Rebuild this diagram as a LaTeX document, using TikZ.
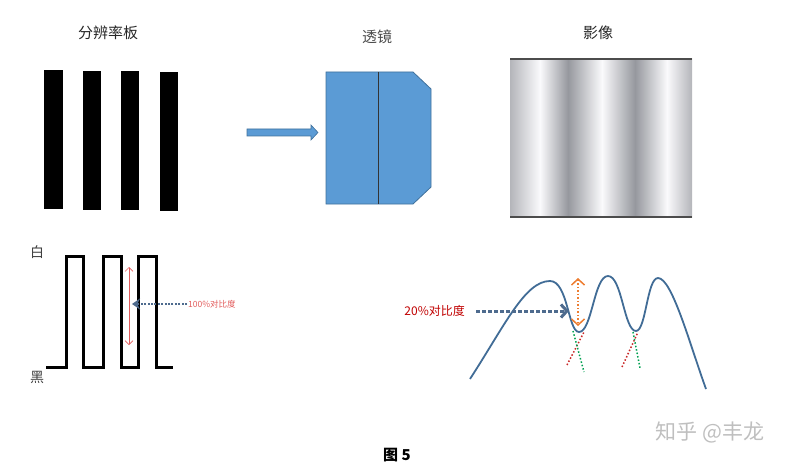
\documentclass[tikz,border=0pt]{standalone}
\usepackage{fontspec}
\setmainfont{Noto Sans CJK SC}
\usepackage{tikz}
\usetikzlibrary{arrows.meta}
\definecolor{LensBlue}{RGB}{91,155,213}
\definecolor{LensEdge}{RGB}{65,113,156}
\definecolor{CurveBlue}{RGB}{65,108,150}
\definecolor{PtrBlue}{RGB}{78,107,142}
\definecolor{MarkRed}{RGB}{192,0,0}
\definecolor{SoftRed}{RGB}{226,92,92}
\definecolor{MarkOrange}{RGB}{237,125,49}
\definecolor{MarkGreen}{RGB}{0,160,80}
\definecolor{BarGray}{RGB}{150,152,158}
\definecolor{BarLight}{RGB}{250,250,252}
\definecolor{BarMid}{RGB}{180,181,186}
\pgfdeclarehorizontalshading{imgstripes}{100bp}{%
  color(0bp)=(BarMid); color(25bp)=(BarMid); color(33.24bp)=(BarLight);
  color(40.93bp)=(BarGray); color(50.27bp)=(BarLight); color(59.34bp)=(BarGray);
  color(68.13bp)=(BarLight); color(75bp)=(BarMid); color(100bp)=(BarMid)}

\begin{document}
\begin{tikzpicture}[x=1pt, y=-1pt,
          title/.style={font=\fontsize{15}{15}\selectfont, text=black!85},
          bar/.style={fill=black},
          ptr/.style={-{Stealth[length=8pt, width=11pt]}, draw=PtrBlue,
                      line width=2.6pt, dash pattern=on 2pt off 1.4pt},
          cut/.style={line width=1.5pt, dotted}
        ]
        \useasboundingbox (0,0) rectangle (802,465);

        % titles
        \node[title] (tchart) at (108,33) {分辨率板};
        \node[title, text=black!70] (tlens) at (377,37) {透镜};
        \node[title] (timg) at (598,33) {影像};

        % resolution chart
        \fill[bar] (44,70) rectangle (63,209);
        \fill[bar] (83,71) rectangle (101,210);
        \fill[bar] (121,71) rectangle (139,210);
        \fill[bar] (160,72) rectangle (178,211);

        % block arrow
        \draw[fill=LensBlue, draw=LensEdge, line width=0.6pt]
              (247,129) -- (311,129) -- (311,125) -- (318,132.5) -- (311,140)
              -- (311,136) -- (247,136) -- cycle;

        % lens
        \draw[fill=LensBlue, draw=LensEdge, line width=0.8pt]
              (326,72) -- (413,72) -- (431,89) -- (431,187) -- (413,204)
              -- (326,204) -- cycle;
        \draw[draw=black!80, line width=1pt] (378,72) -- (378,204);

        % image
        \shade[shading=imgstripes] (510,59) rectangle (692,217);
        \draw[black!70, line width=1.2pt] (510,59) -- (692,59);
        \draw[black!70, line width=1.2pt] (510,217) -- (692,217);

        % square response
        \node[font=\fontsize{14}{14}\selectfont, text=black!75] (white) at (37,252) {白};
        \node[font=\fontsize{14}{14}\selectfont, text=black!75] (black) at (37,377) {黑};
        \draw[line width=3pt, line join=miter]
              (46,367) -- (66,367) -- (66,256) -- (83,256) -- (83,367)
              -- (103,367) -- (103,256) -- (121,256) -- (121,367)
              -- (138,367) -- (138,256) -- (156,256) -- (156,367) -- (173,367);
        \coordinate (hi) at (129,267);
        \coordinate (lo) at (129,345);
        \draw[{Straight Barb[length=4pt, width=8pt]}-{Straight Barb[length=4pt, width=8pt]},
              SoftRed, line width=0.7pt] (hi) -- (lo);
        \node[font=\fontsize{8.5}{8.5}\selectfont, text=SoftRed, anchor=west, inner sep=1pt]
              (full) at (187,304) {100\%对比度};
        \coordinate (fulltip) at (132,304);
        \draw[ptr] (full.west) -- (fulltip);

        % blurred response
        \draw[CurveBlue, line width=1.8pt]
              (470,379) .. controls (505,325) and (525,281) .. (550,281)
              .. controls (568,281) and (568,332) .. (579,332)
              .. controls (592,332) and (594,276) .. (608,276)
              .. controls (622,276) and (624,331) .. (636,331)
              .. controls (646,331) and (647,278) .. (658,278)
              .. controls (672,278) and (690,345) .. (706,389);
        \coordinate (peak) at (578,278);
        \coordinate (dip) at (578,326);
        \draw[{Straight Barb[length=6pt, width=13pt]}-{Straight Barb[length=6pt, width=13pt]},
              MarkOrange, line width=1.5pt, dotted] (peak) -- (dip);
        \node[font=\fontsize{12}{12}\selectfont, text=MarkRed, anchor=east, inner sep=1pt]
              (part) at (466,311) {20\%对比度};
        \coordinate (parttip) at (569,311);
        \draw[-{Straight Barb[length=6pt, width=13pt]}, PtrBlue, line width=3pt,
              dash pattern=on 4pt off 2pt, shorten <=10pt] (part.east) -- (parttip);

        \coordinate (ra1) at (567,365);
        \coordinate (ra2) at (584,332);
        \coordinate (ga1) at (573,331);
        \coordinate (ga2) at (584,372);
        \draw[cut, draw=MarkRed!85] (ra1) -- (ra2);
        \draw[cut, draw=MarkGreen] (ga1) -- (ga2);
        \coordinate (rb1) at (622,367);
        \coordinate (rb2) at (638,332);
        \coordinate (gb1) at (633,332);
        \coordinate (gb2) at (640,368);
        \draw[cut, draw=MarkRed!85] (rb1) -- (rb2);
        \draw[cut, draw=MarkGreen] (gb1) -- (gb2);

        % caption and mark
        \node[font=\bfseries\fontsize{15}{15}\selectfont] (cap) at (397,455) {图 5};
        \node[font=\fontsize{21}{21}\selectfont, text=black!25, anchor=west]
              (mark) at (652,432) {知乎 @丰龙};
      \end{tikzpicture}
\end{document}
